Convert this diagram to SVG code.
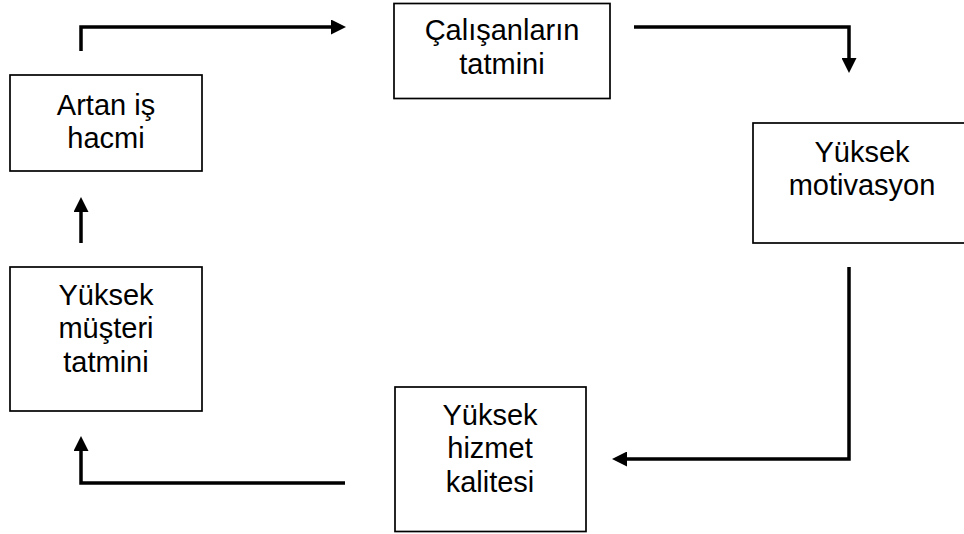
<svg xmlns="http://www.w3.org/2000/svg" width="964" height="534" viewBox="0 0 964 534">
  <style>
    .box { fill: #ffffff; stroke: #000000; stroke-width: 1.7; }
    .lbl { font-family: "Liberation Sans", Arial, sans-serif; font-size: 29px; fill: #000000; text-anchor: middle; }
    .flow { fill: none; stroke: #000000; stroke-width: 3.5; stroke-linejoin: miter; }
  </style>
  <defs>
    <marker id="head" viewBox="0 0 10 10" refX="0" refY="5" markerWidth="15" markerHeight="15" markerUnits="userSpaceOnUse" orient="auto">
      <path d="M0,0 L10,5 L0,10 Z" fill="#000000"/>
    </marker>
  </defs>
  <rect width="964" height="534" fill="#ffffff"/>

  <g id="connectors">
    <!-- Artan iş hacmi -> Çalışanların tatmini -->
    <path class="flow" d="M81,51 V27 H331" marker-end="url(#head)"/>
    <!-- Çalışanların tatmini -> Yüksek motivasyon -->
    <path class="flow" d="M634,27 H849 V58" marker-end="url(#head)"/>
    <!-- Yüksek motivasyon -> Yüksek hizmet kalitesi -->
    <path class="flow" d="M849,267 V459 H627" marker-end="url(#head)"/>
    <!-- Yüksek hizmet kalitesi -> Yüksek müşteri tatmini -->
    <path class="flow" d="M345,483 H81 V451" marker-end="url(#head)"/>
    <!-- Yüksek müşteri tatmini -> Artan iş hacmi -->
    <path class="flow" d="M81,243 V212" marker-end="url(#head)"/>
  </g>

  <g id="artan-is-hacmi">
    <rect class="box" x="10" y="75" width="192" height="96"/>
    <text class="lbl" x="106" y="115">Artan iş</text>
    <text class="lbl" x="106" y="148">hacmi</text>
  </g>

  <g id="calisanlarin-tatmini">
    <rect class="box" x="394" y="3.5" width="216" height="95"/>
    <text class="lbl" x="502" y="40">Çalışanların</text>
    <text class="lbl" x="502" y="74">tatmini</text>
  </g>

  <g id="yuksek-motivasyon">
    <rect class="box" x="753" y="123" width="220" height="120"/>
    <text class="lbl" x="862" y="162">Yüksek</text>
    <text class="lbl" x="862" y="195">motivasyon</text>
  </g>

  <g id="yuksek-hizmet-kalitesi">
    <rect class="box" x="395" y="387" width="191" height="144.5"/>
    <text class="lbl" x="490" y="425">Yüksek</text>
    <text class="lbl" x="490" y="458">hizmet</text>
    <text class="lbl" x="490" y="492">kalitesi</text>
  </g>

  <g id="yuksek-musteri-tatmini">
    <rect class="box" x="10" y="267" width="192" height="144"/>
    <text class="lbl" x="106" y="305">Yüksek</text>
    <text class="lbl" x="106" y="338">müşteri</text>
    <text class="lbl" x="106" y="372">tatmini</text>
  </g>
</svg>
